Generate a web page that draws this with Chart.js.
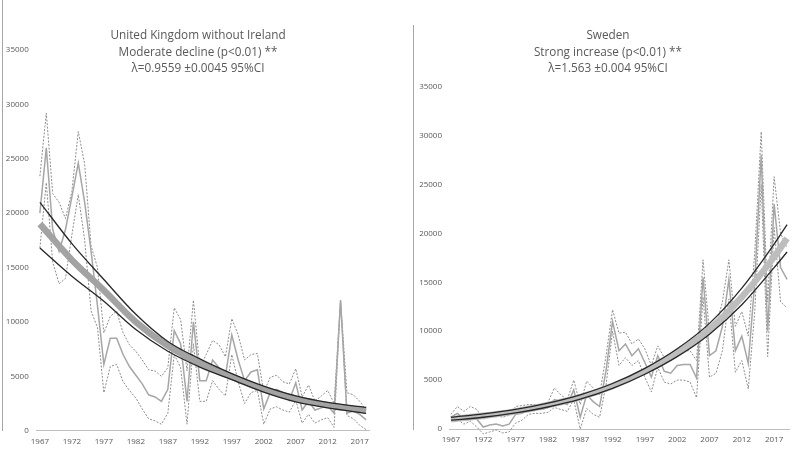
<!DOCTYPE html>
<html>
<head>
<meta charset="utf-8">
<script src="https://cdn.jsdelivr.net/npm/chart.js@4"></script>
<style>
  body { margin: 0; background: #fff; }
  #wrap { position: relative; width: 792px; height: 454px; overflow: hidden; }
  canvas { position: absolute; top: 0; }
  .title { position: absolute; top: 26px; width: 300px; text-align: center; color: #595959;
           font-family: "Open Sans", sans-serif; font-size: 13.5px; line-height: 16.5px;
           transform: scaleX(0.87); transform-origin: 50% 0; }
  .vline { position: absolute; width: 1px; background: #a6a6a6; }
</style>
</head>
<body>
<div id="wrap">
  <canvas id="ukChart" style="left:0px" width="380" height="454"></canvas>
  <canvas id="seChart" style="left:396px" width="396" height="454"></canvas>
  <div class="vline" style="left:2px;top:0px;height:431px"></div>
  <div class="vline" style="left:413px;top:25px;height:405px"></div>
  <div class="title" style="left:48px">United Kingdom without Ireland<br>Moderate decline (p&lt;0.01) **<br>&lambda;=0.9559 &plusmn;0.0045 95%CI</div>
  <div class="title" style="left:458px">Sweden<br>Strong increase (p&lt;0.01) **<br>&lambda;=1.563 &plusmn;0.004 95%CI</div>
</div>
<script>
// tick labels
const xTicks = [1967, 1972, 1977, 1982, 1987, 1992, 1997, 2002, 2007, 2012, 2017];
const yTicks = [0, 5000, 10000, 15000, 20000, 25000, 30000, 35000];

// United Kingdom without Ireland
const ukYears = [1967,1968,1969,1970,1971,1972,1973,1974,1975,1976,
  1977,1978,1979,1980,1981,1982,1983,1984,1985,1986,
  1987,1988,1989,1990,1991,1992,1993,1994,1995,1996,
  1997,1998,1999,2000,2001,2002,2003,2004,2005,2006,
  2007,2008,2009,2010,2011,2012,2013,2014,2015,2016,
  2017,2018];
const ukIndex = [20000,26000,18500,16500,18500,21500,24600,21000,16500,11500,
  6100,8500,8500,7000,5900,5100,4300,3300,3100,2700,
  3800,9200,8000,2700,10000,4600,4600,6500,5800,5000,
  8800,6500,4600,5400,5600,2000,3500,3800,3500,2800,
  4400,1900,2700,1900,2100,2300,1600,12000,1600,1800,
  1500,1000];
const ukUpper = [23400,29200,21800,21000,19500,22000,27500,24500,17000,15000,
  9000,10500,11000,9000,7900,7300,6500,5600,5500,5000,
  5800,11300,10200,5500,12000,5800,7000,8300,7900,6800,
  10300,8800,6500,7000,7100,3500,4900,5100,4500,4300,
  5700,3100,4200,2700,3200,3700,2500,12000,3500,3300,
  2700,1900];
const ukLower = [16800,22800,15500,13500,14000,18000,21700,17500,11000,9500,
  3500,5900,6100,4500,3700,3000,2000,1100,900,600,
  1600,7000,5800,600,8000,2700,2700,4600,3800,3200,
  7000,4500,2500,3500,3700,600,2000,2200,1900,1700,
  2800,700,1500,700,1000,1200,300,12000,1400,1100,
  500,100];
const ukTrendYears = [1967,1972,1977,1982,1987,1992,1997,2002,2007,2012,2018];
const ukTrend      = [19000,15700,12900,10000,7800,6200,4950,3800,2950,2350,1850];
const ukTrendUpper = [21000,17200,13900,10700,8200,6600,5250,4100,3200,2600,2150];
const ukTrendLower = [16800,14200,11900,9300,7300,5850,4700,3550,2650,2100,1600];

// Sweden
const seYears = [1967,1968,1969,1970,1971,1972,1973,1974,1975,1976,
  1977,1978,1979,1980,1981,1982,1983,1984,1985,1986,
  1987,1988,1989,1990,1991,1992,1993,1994,1995,1996,
  1997,1998,1999,2000,2001,2002,2003,2004,2005,2006,
  2007,2008,2009,2010,2011,2012,2013,2014,2015,2016,
  2017,2018,2019];
const seIndex = [1200,1600,1100,1300,1000,200,400,500,300,500,
  1500,1600,2000,2100,2000,2200,3000,2800,2500,4000,
  1200,3500,2800,2300,6000,11000,8000,8700,7500,8200,
  6800,5300,7500,5900,5700,6500,6600,6600,5200,15500,
  7500,8000,10500,15300,8000,9500,6700,15000,28000,10000,
  23000,16500,15300];
const seUpper = [1500,2300,1800,2300,2000,1000,1300,1400,1200,1400,
  2300,2400,2500,2500,2400,2700,4200,3500,3000,5000,
  2500,4900,4200,3500,7500,12200,9800,9900,8700,9200,
  8200,6500,8500,7300,7500,8000,8000,8000,7000,17300,
  9800,10500,13000,17300,10500,12000,9500,18000,30400,13000,
  25800,20000,18500];
const seLower = [900,1000,500,800,200,-500,-300,-100,-400,-300,
  600,900,1500,1600,1600,1700,2200,2000,1800,3000,
  0,2100,1500,1200,4500,10000,6500,7300,6500,7000,
  5300,3800,6300,4800,4600,5000,5000,4800,3200,13500,
  5300,5700,8000,13300,5800,7000,4100,12000,25000,7400,
  20600,13000,12400];
const seTrendYears = [1967,1972,1977,1982,1987,1992,1997,2002,2007,2012,2017,2019];
const seTrend      = [1000,1350,1800,2450,3250,4400,5900,7800,10200,13500,17600,19500];
const seTrendUpper = [1200,1550,2000,2650,3500,4650,6200,8200,10800,14400,18900,20900];
const seTrendLower = [900,1200,1650,2250,3050,4150,5600,7400,9700,12700,16500,18100];

function pts(xs, ys) {
  return xs.map((x, i) => ({ x: x, y: ys[i] }));
}

function makeChart(id, o) {
  const curve = { cubicInterpolationMode: 'monotone', pointRadius: 0, clip: false };
  new Chart(document.getElementById(id), {
    type: 'line',
    data: {
      datasets: [
        Object.assign({ data: pts(o.trendYears, o.trendUpper), borderColor: '#262626', borderWidth: 1.3 }, curve),
        Object.assign({ data: pts(o.trendYears, o.trendLower), borderColor: '#262626', borderWidth: 1.3 }, curve),
        Object.assign({ data: pts(o.trendYears, o.trend), borderColor: o.trendColor, borderWidth: 6.5 }, curve),
        { data: pts(o.years, o.index), borderColor: '#a6a6a6', borderWidth: 1.5, pointRadius: 0, tension: 0, clip: false },
        { data: pts(o.years, o.upper), borderColor: '#8c8c8c', borderWidth: 1, borderDash: [2, 1.5], pointRadius: 0, tension: 0, clip: false },
        { data: pts(o.years, o.lower), borderColor: '#8c8c8c', borderWidth: 1, borderDash: [2, 1.5], pointRadius: 0, tension: 0, clip: false }
      ]
    },
    options: {
      responsive: false,
      animation: false,
      events: [],
      layout: { padding: { top: o.top, right: o.right, left: 0, bottom: 0 } },
      plugins: { legend: { display: false }, tooltip: { enabled: false } },
      scales: {
        x: {
          type: 'linear', min: o.xmin, max: o.xmax,
          afterBuildTicks: s => { s.ticks = xTicks.map(v => ({ value: v })); },
          afterFit: s => { s.height = o.xh; },
          grid: { display: false, drawTicks: false },
          border: { display: true, color: '#bfbfbf', width: 1 },
          ticks: { autoSkip: false, maxRotation: 0, padding: 6, color: '#595959',
                   font: { family: 'Open Sans', size: 8 }, callback: v => String(v) }
        },
        y: {
          min: 0, max: 35000,
          afterBuildTicks: s => { s.ticks = yTicks.map(v => ({ value: v })); },
          afterFit: s => { s.width = o.yw; },
          grid: { display: false, drawTicks: false },
          border: { display: false },
          ticks: { padding: o.ypad, color: '#595959',
                   font: { family: 'Open Sans', size: 8 }, callback: v => String(v) }
        }
      }
    }
  });
}

makeChart('ukChart', {
  years: ukYears, index: ukIndex, upper: ukUpper, lower: ukLower,
  trendYears: ukTrendYears, trend: ukTrend, trendUpper: ukTrendUpper, trendLower: ukTrendLower,
  trendColor: '#a3a3a3', xmin: 1966.5, xmax: 2018.45,
  top: 50, right: 11, xh: 23.3, yw: 36.7, ypad: 8
});

makeChart('seChart', {
  years: seYears, index: seIndex, upper: seUpper, lower: seLower,
  trendYears: seTrendYears, trend: seTrend, trendUpper: seTrendUpper, trendLower: seTrendLower,
  trendColor: '#bdbdbd', xmin: 1966.7, xmax: 2019.3,
  top: 86.7, right: 3, xh: 25, yw: 53, ypad: 7
});
</script>
</body>
</html>
